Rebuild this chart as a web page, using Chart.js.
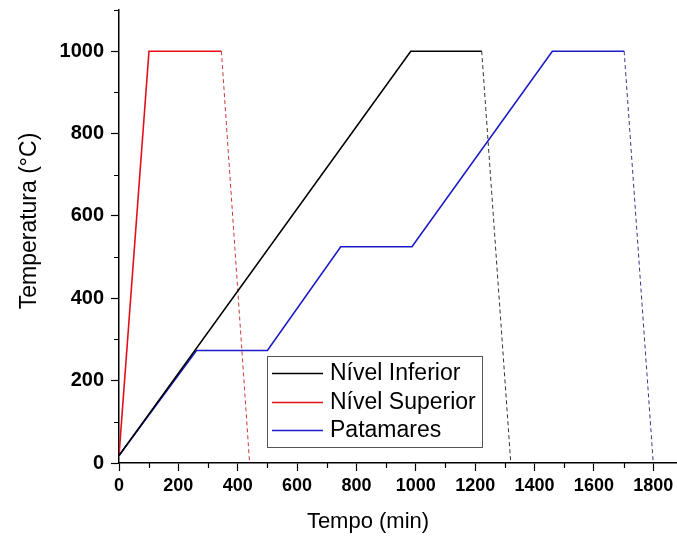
<!DOCTYPE html>
<html>
<head>
<meta charset="utf-8">
<script src="https://cdn.jsdelivr.net/npm/chart.js@4.4.0/dist/chart.umd.min.js"></script>
<style>
  html, body { margin: 0; padding: 0; background: #fff; }
  #wrap { width: 677px; height: 540px; position: relative; }
</style>
</head>
<body>
<div id="wrap"><canvas id="chart"></canvas></div>
<script>
'use strict';

// tempo (min) x temperatura (oC)
const tempoInferior = [0, 983, 1222];
const tempInferior  = [18, 1000, 1000];
const tempoInferiorResfr = [1222, 1320];
const tempInferiorResfr  = [1000, 0];

const tempoSuperior = [0, 101, 345];
const tempSuperior  = [18, 1000, 1000];
const tempoSuperiorResfr = [345, 440];
const tempSuperiorResfr  = [1000, 0];

const tempoPatamares = [0, 261, 500, 747, 987, 1460, 1702];
const tempPatamares  = [18, 273, 273, 525, 525, 1000, 1000];
const tempoPatamaresResfr = [1702, 1800];
const tempPatamaresResfr  = [1000, 0];

const legendLabels = ['Nível Inferior', 'Nível Superior', 'Patamares'];
const xTitle = 'Tempo (min)';
const yTitle = 'Temperatura (°C)';

const COLORS = { inferior: '#000000', superior: '#e3101a', patamares: '#1a1ac8' };
const FONT = 'Arial, "Liberation Sans", sans-serif';

function pts(xs, ys) { return xs.map((x, i) => ({ x, y: ys[i] })); }

function solid(label, xs, ys, color) {
  return { label, data: pts(xs, ys), showLine: true, borderColor: color, backgroundColor: color,
           borderWidth: 1.6, pointRadius: 0, tension: 0 };
}
function dashed(xs, ys, color) {
  return { label: '', data: pts(xs, ys), showLine: true, borderColor: color, backgroundColor: color,
           borderWidth: 1, borderDash: [4, 3], pointRadius: 0, tension: 0 };
}

// minor ticks, legend box and axis titles
const extras = {
  id: 'extras',
  afterDraw(chart) {
    const { ctx, chartArea: a, scales: { x, y } } = chart;
    ctx.save();
    ctx.strokeStyle = '#000';
    ctx.lineWidth = 1.2;
    ctx.beginPath();
    for (let v = 100; v < x.max; v += 200) {
      const px = Math.round(x.getPixelForValue(v)) + 0.5;
      ctx.moveTo(px, a.bottom); ctx.lineTo(px, a.bottom + 5);
    }
    for (let v = 100; v <= y.max; v += 200) {
      const py = Math.round(y.getPixelForValue(v)) + 0.5;
      ctx.moveTo(a.left, py); ctx.lineTo(a.left - 5, py);
    }
    ctx.stroke();

    // legend
    ctx.lineWidth = 1;
    ctx.strokeStyle = '#555';
    ctx.strokeRect(267.5, 356.5, 215, 91);
    const rows = [373, 402, 430];
    const cols = [COLORS.inferior, COLORS.superior, COLORS.patamares];
    ctx.font = '23px ' + FONT;
    ctx.textBaseline = 'middle';
    ctx.textAlign = 'left';
    legendLabels.forEach((t, i) => {
      ctx.strokeStyle = cols[i];
      ctx.lineWidth = 1.5;
      ctx.beginPath();
      ctx.moveTo(272, rows[i] + 0.5); ctx.lineTo(323, rows[i] + 0.5);
      ctx.stroke();
      ctx.fillStyle = '#000';
      ctx.fillText(t, 330, rows[i] + 1);
    });

    // axis titles
    ctx.fillStyle = '#000';
    ctx.font = '22px ' + FONT;
    ctx.textAlign = 'center';
    ctx.fillText(xTitle, 368, 522);
    ctx.translate(30, 221);
    ctx.rotate(-Math.PI / 2);
    ctx.font = '23px ' + FONT;
    ctx.fillText(yTitle, 0, 0);
    ctx.restore();
  }
};

new Chart(document.getElementById('chart'), {
  type: 'scatter',
  data: {
    datasets: [
      solid(legendLabels[0], tempoInferior, tempInferior, COLORS.inferior),
      dashed(tempoInferiorResfr, tempInferiorResfr, '#333333'),
      solid(legendLabels[2], tempoPatamares, tempPatamares, COLORS.patamares),
      dashed(tempoPatamaresResfr, tempPatamaresResfr, '#3a3a88'),
      solid(legendLabels[1], tempoSuperior, tempSuperior, COLORS.superior),
      dashed(tempoSuperiorResfr, tempSuperiorResfr, '#c8383c'),
    ]
  },
  options: {
    responsive: true,
    maintainAspectRatio: false,
    animation: false,
    layout: { padding: { top: 10, right: 0, bottom: 0, left: 0 } },
    plugins: { legend: { display: false }, tooltip: { enabled: false } },
    scales: {
      x: {
        type: 'linear', min: 0, max: 1880,
        ticks: { stepSize: 200, includeBounds: false, color: '#000', padding: 4, maxRotation: 0, autoSkip: false,
                 callback: v => String(v),
                 font: { family: FONT, size: 18, weight: 'bold' } },
        grid: { drawOnChartArea: false, drawTicks: true, tickLength: 8, tickColor: '#000', tickWidth: 1.2 },
        border: { display: true, color: '#000', width: 1.5 },
        afterFit(s) { s.height = 77; s.paddingLeft = 0; s.paddingRight = 0; }
      },
      y: {
        type: 'linear', min: 0, max: 1100,
        ticks: { stepSize: 200, includeBounds: false, color: '#000', padding: 7,
                 callback: v => String(v),
                 font: { family: FONT, size: 20, weight: 'bold' } },
        grid: { drawOnChartArea: false, drawTicks: true, tickLength: 8, tickColor: '#000', tickWidth: 1.2 },
        border: { display: true, color: '#000', width: 1.5 },
        afterFit(s) { s.width = 119; s.paddingTop = 0; s.paddingBottom = 0; }
      }
    }
  },
  plugins: [extras]
});
</script>
</body>
</html>
